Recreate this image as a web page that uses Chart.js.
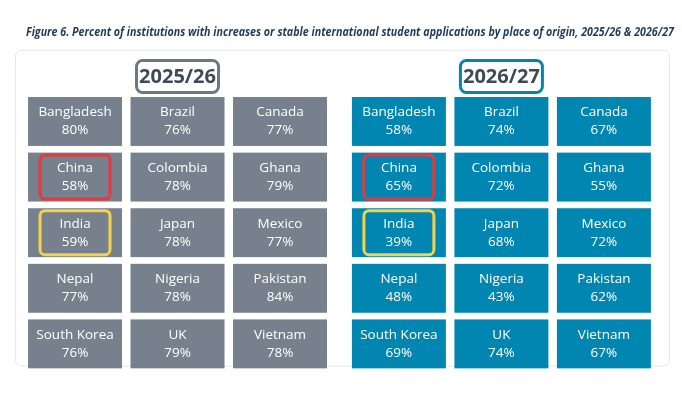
<!DOCTYPE html>
<html lang="en">
<head>
<meta charset="UTF-8">
<title>Figure 6</title>
<script src="https://cdn.jsdelivr.net/npm/chart.js@4"></script>
<style>
  html, body { margin: 0; padding: 0; background: #fff; }
  #wrap { width: 682px; height: 413px; }
</style>
</head>
<body>
<div id="wrap"><canvas id="chart"></canvas></div>
<script>
const titleText = 'Figure 6. Percent of institutions with increases or stable international student applications by place of origin, 2025/26 & 2026/27';
const years = ['2025/26', '2026/27'];
const countries = ['Bangladesh', 'Brazil', 'Canada', 'China', 'Colombia', 'Ghana', 'India', 'Japan', 'Mexico',
                   'Nepal', 'Nigeria', 'Pakistan', 'South Korea', 'UK', 'Vietnam'];
const values2025 = [80, 76, 77, 58, 78, 79, 59, 78, 77, 77, 78, 84, 76, 79, 78];
const values2026 = [58, 74, 67, 65, 72, 55, 39, 68, 72, 48, 43, 62, 69, 74, 67];
const highlights = { China: '#e8383d', India: '#f5d24a' };

const panelColors = ['#76818d', '#0086b0'];
const headerColors = ['#6d7884', '#0086b0'];
const panelOffset = [0, 3.16];

function tilePoints(values, p) {
  return values.map((v, i) => ({ x: panelOffset[p] + (i % 3), y: Math.floor(i / 3), name: countries[i], v }));
}

const tilePlugin = {
  id: 'tiles',
  beforeDatasetsDraw(chart) {
    const { ctx, scales: { x, y } } = chart;
    const ux = x.getPixelForValue(1) - x.getPixelForValue(0);
    const uy = y.getPixelForValue(1) - y.getPixelForValue(0);
    ctx.save();
    // title
    ctx.fillStyle = '#1f3b5a';
    ctx.font = 'italic bold 11.5px "Open Sans", sans-serif';
    ctx.textAlign = 'center';
    ctx.textBaseline = 'middle';
    ctx.fillText(titleText, 350, 33, 648);
    // outer frame
    ctx.strokeStyle = '#e3e6e9';
    ctx.lineWidth = 1;
    ctx.beginPath();
    ctx.roundRect(x.getPixelForValue(-0.58), y.getPixelForValue(-1.28), x.getPixelForValue(5.8) - x.getPixelForValue(-0.58), y.getPixelForValue(4.4) - y.getPixelForValue(-1.28), 6);
    ctx.stroke();
    chart.data.datasets.forEach((ds, p) => {
      // header
      const hx = x.getPixelForValue(panelOffset[p] + 1), hy = y.getPixelForValue(-0.81);
      ctx.strokeStyle = headerColors[p];
      ctx.lineWidth = 3;
      ctx.fillStyle = '#fff';
      ctx.beginPath();
      ctx.roundRect(hx - 41, hy - 16, 82, 32, 6);
      ctx.fill(); ctx.stroke();
      ctx.fillStyle = '#3d4a59';
      ctx.font = 'bold 20px "Open Sans", sans-serif';
      ctx.fillText(years[p], hx, hy + 1);
      ds.data.forEach(d => {
        const cx = x.getPixelForValue(d.x), cy = y.getPixelForValue(d.y);
        const w = ux * 0.917, h = uy * 0.88;
        ctx.fillStyle = panelColors[p];
        ctx.fillRect(cx - w / 2, cy - h / 2, w, h);
        if (highlights[d.name]) {
          ctx.strokeStyle = highlights[d.name];
          ctx.lineWidth = 3;
          ctx.beginPath();
          ctx.roundRect(cx - 35, cy - 22, 70, 44, 5);
          ctx.stroke();
        }
        ctx.fillStyle = '#fff';
        ctx.font = '13.5px "Open Sans", sans-serif';
        ctx.fillText(d.name, cx, cy - 9);
        ctx.fillText(d.v + '%', cx, cy + 9);
      });
    });
    ctx.restore();
  }
};

new Chart(document.getElementById('chart'), {
  type: 'scatter',
  data: {
    datasets: [
      { label: years[0], data: tilePoints(values2025, 0), pointRadius: 0 },
      { label: years[1], data: tilePoints(values2026, 1), pointRadius: 0 }
    ]
  },
  options: {
    responsive: true,
    maintainAspectRatio: false,
    animation: false,
    layout: { padding: 0 },
    plugins: { legend: { display: false }, tooltip: { enabled: false } },
    scales: {
      x: { type: 'linear', min: -0.732, max: 5.922, display: false },
      y: { type: 'linear', min: -2.185, max: 5.243, reverse: true, display: false }
    }
  },
  plugins: [tilePlugin]
});
</script>
</body>
</html>
